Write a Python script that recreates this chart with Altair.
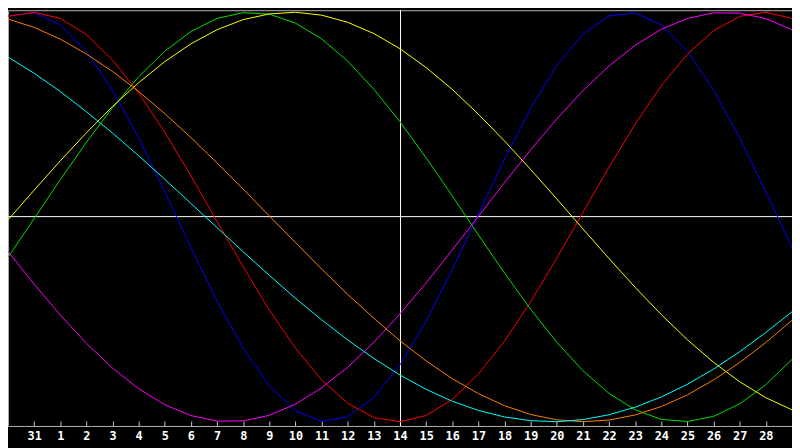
import json
import altair as alt
import pandas as pd

# day index along the x axis (0 = 30 Jan ... 30 = 1 Mar)
days = list(range(31))
tick_days = list(range(1, 30))
tick_labels = ["31", "1", "2", "3", "4", "5", "6", "7", "8", "9", "10", "11", "12", "13",
               "14", "15", "16", "17", "18", "19", "20", "21", "22", "23", "24", "25",
               "26", "27", "28"]

physical = [0.982, 0.997, 0.938, 0.809, 0.620, 0.386, 0.123, -0.150, -0.411, -0.642, -0.825,
            -0.947, -0.999, -0.976, -0.881, -0.722, -0.508, -0.257, 0.014, 0.283, 0.531,
            0.740, 0.894, 0.982, 0.997, 0.938, 0.809, 0.620, 0.386, 0.123, -0.150]
emotional = [0.980, 1.000, 0.970, 0.891, 0.767, 0.606, 0.414, 0.201, -0.022, -0.244, -0.454,
             -0.641, -0.796, -0.910, -0.980, -1.000, -0.970, -0.891, -0.767, -0.606, -0.414,
             -0.201, 0.022, 0.244, 0.454, 0.641, 0.796, 0.910, 0.980, 1.000, 0.970]
intellectual = [-0.197, -0.008, 0.182, 0.365, 0.534, 0.685, 0.810, 0.906, 0.970, 0.998, 0.991,
                0.947, 0.870, 0.761, 0.624, 0.465, 0.289, 0.103, -0.088, -0.274, -0.451,
                -0.612, -0.751, -0.862, -0.942, -0.989, -0.999, -0.974, -0.913, -0.819, -0.696]
intuitive = [-0.168, -0.328, -0.479, -0.617, -0.738, -0.839, -0.917, -0.970, -0.997, -0.996,
             -0.969, -0.914, -0.835, -0.734, -0.612, -0.473, -0.322, -0.161, 0.003, 0.168,
             0.328, 0.479, 0.617, 0.738, 0.839, 0.917, 0.970, 0.997, 0.996, 0.969, 0.914]
aesthetic = [-0.015, 0.131, 0.274, 0.411, 0.540, 0.656, 0.759, 0.846, 0.915, 0.964, 0.992,
             1.000, 0.986, 0.951, 0.896, 0.822, 0.730, 0.623, 0.502, 0.371, 0.232, 0.088,
             -0.058, -0.203, -0.344, -0.477, -0.600, -0.710, -0.805, -0.883, -0.942]
awareness = [0.967, 0.926, 0.869, 0.796, 0.711, 0.613, 0.505, 0.388, 0.264, 0.136, 0.005,
             -0.125, -0.254, -0.378, -0.495, -0.605, -0.703, -0.790, -0.863, -0.922, -0.965,
             -0.991, -1.000, -0.992, -0.967, -0.926, -0.869, -0.796, -0.711, -0.613, -0.505]
spiritual = [0.781, 0.702, 0.613, 0.514, 0.410, 0.299, 0.184, 0.066, -0.052, -0.170, -0.285,
             -0.397, -0.502, -0.601, -0.691, -0.772, -0.842, -0.900, -0.945, -0.977, -0.995,
             -1.000, -0.990, -0.966, -0.929, -0.879, -0.817, -0.743, -0.658, -0.564, -0.463]

series_names = ["Physical", "Emotional", "Intellectual", "Intuitive", "Aesthetic",
                "Awareness", "Spiritual"]
series_values = [physical, emotional, intellectual, intuitive, aesthetic, awareness, spiritual]
series_colors = ["#0000ff", "#ff0000", "#00e000", "#ff00ff", "#ffff00", "#ff8000", "#00ffff"]

rows = []
for order, (name, vals) in enumerate(zip(series_names, series_values)):
    for d, v in zip(days, vals):
        rows.append({"day": d, "value": v, "series": name, "order": order})
df = pd.DataFrame(rows)

x_scale = alt.Scale(domain=[0, 30], nice=False, zero=False)
y_scale = alt.Scale(domain=[-1.021, 1.010], nice=False, zero=False)

label_expr = json.dumps(tick_labels) + "[datum.value - 1]"

x_axis = alt.Axis(
    values=tick_days, labelExpr=label_expr, title=None, grid=False, domain=False,
    ticks=True, tickSize=5, tickColor="#c8c8c8", tickWidth=1, offset=-5,
    labelColor="#ffffff", labelFont="DejaVu Sans Mono", labelFontWeight="bold",
    labelFontSize=12, labelPadding=5, labelFlush=False, labelOverlap=False,
)

base = alt.Chart(df)

hline = alt.Chart(pd.DataFrame({"v": [0]})).mark_rule(
    color="#ffffff", strokeWidth=1, yOffset=-0.36
).encode(
    y=alt.Y("v:Q", scale=y_scale, axis=None)
)
vline = alt.Chart(pd.DataFrame({"d": [15]})).mark_rule(
    color="#ffffff", strokeWidth=1, xOffset=0.5
).encode(
    x=alt.X("d:Q", scale=x_scale, axis=x_axis)
)

lines = base.mark_line(strokeWidth=1, clip=True, interpolate="linear").encode(
    x=alt.X("day:Q", scale=x_scale, axis=x_axis),
    y=alt.Y("value:Q", scale=y_scale, axis=None),
    color=alt.Color("series:N", scale=alt.Scale(domain=series_names, range=series_colors),
                    legend=None),
    order=alt.Order("order:Q"),
    detail="series:N",
)

chart = alt.layer(hline, vline, lines).properties(
    width=792, height=420,
    autosize=alt.AutoSizeParams(type="none"),
    padding={"left": 0, "top": 0, "right": 0, "bottom": 20},
    background="#000000",
).configure_view(
    fill="#000000", stroke="#b0b0b0", strokeWidth=1,
)

chart.save("out.html", embed_options={"renderer": "svg", "actions": False})
